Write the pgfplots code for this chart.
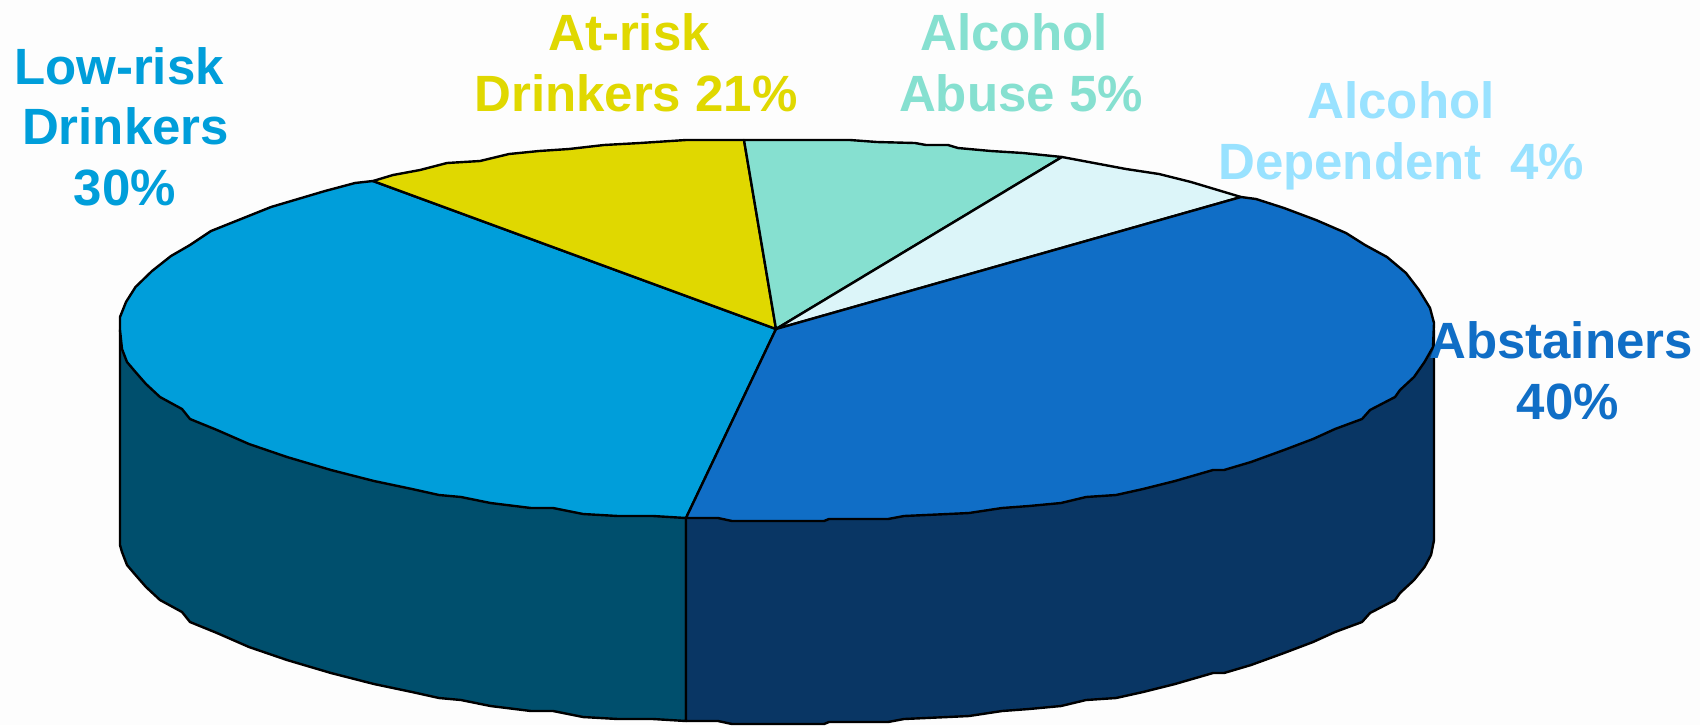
\documentclass[border=0pt]{standalone}
\usepackage{pgfplots}
\pgfplotsset{compat=1.18}
\usepackage{fontspec}
\setmainfont{Liberation Sans}

\definecolor{bgc}{HTML}{FDFDFD}
\definecolor{lowc}{HTML}{009EDA}
\definecolor{riskc}{HTML}{E0D800}
\definecolor{abusec}{HTML}{86E0D0}
\definecolor{depc}{HTML}{DCF5F9}
\definecolor{abstc}{HTML}{106EC6}
\definecolor{sideleft}{HTML}{004F6D}
\definecolor{sideright}{HTML}{093664}
\definecolor{deptext}{HTML}{99E2FF}

\tikzset{
    lab/.style={anchor=base, inner sep=0pt, outer sep=0pt, font=\fontsize{25.5pt}{30pt}\selectfont\bfseries},
    slice/.style={draw=black, line width=1.2pt, line join=round},
}

\begin{document}
\begin{tikzpicture}
\begin{axis}[
    scale only axis,
    width=850pt,
    height=362.5pt,
    xmin=0, xmax=1700,
    ymin=0, ymax=725,
    y dir=reverse,
    hide axis,
]

% background
\addplot[draw=none, fill=bgc] coordinates {(0,0) (1700,0) (1700,725) (0,725)} --cycle;

% side walls
\addplot[slice, fill=sideleft] coordinates {
    (686,518) (686,721) (653,719) (618,719) (583,717) (553,711) (531,711) (490.5,706)
    (461,700) (439,698) (412,692) (374,684) (331,673) (287,660) (249,647) (217,633)
    (190,622) (182,612) (160,600) (146,587) (135.5,575) (127,565) (122,552) (120,545)
    (120,330)
} --cycle;
\addplot[slice, fill=sideright] coordinates {
    (686,518) (686,721) (718,721) (732,724) (824,724) (829,722) (850,722) (888,722)
    (904,719) (948,717) (969,716) (1002,711) (1029,709) (1061,706) (1086,700) (1116,698)
    (1143,692) (1175,684) (1213,673) (1224,673) (1251,665) (1284,653) (1313,642) (1335,632)
    (1362,622) (1370,613) (1395,600) (1400,593) (1414,580) (1424.5,567) (1431,555) (1434,540)
    (1434,330)
} --cycle;

% top slices
\addplot[slice, fill=lowc] coordinates {
    (776,329) (686,518) (653,516) (618,516) (583,514) (553,508) (531,508) (490.5,503)
    (461,497) (439,495) (412,489) (374,481) (331,470) (287,457) (249,444) (217,430)
    (190,419) (182,409) (160,397) (146,384) (135.5,372) (127,362) (122,349) (120,330)
    (120,317) (126,302) (135.5,287) (152,271) (171,256) (190,245) (211,231) (238.5,220)
    (271,207) (298,199) (325,191) (355,183) (373,181)
} --cycle;
\addplot[slice, fill=riskc] coordinates {
    (776,329) (373,181) (393,175) (420,170) (447,163) (480,161) (509,154) (539,151)
    (569,149) (604,145) (640,143) (686,140) (744,140)
} --cycle;
\addplot[slice, fill=abusec] coordinates {
    (776,329) (744,140) (850,140) (877,142) (915,143) (926,145) (948,145) (958,148)
    (991,151) (1023,153) (1062,157)
} --cycle;
\addplot[slice, fill=depc] coordinates {
    (776,329) (1062,157) (1094,163) (1126,169) (1159,174) (1191,182) (1241,197)
} --cycle;
\addplot[slice, fill=abstc] coordinates {
    (776,329) (1241,197) (1256,199) (1284,208) (1316,220) (1346,233) (1365,245) (1387,257)
    (1406,273) (1419,290) (1430,308) (1434,323) (1433,347) (1424.5,362) (1414,377) (1400,390)
    (1395,397) (1370,410) (1362,419) (1335,429) (1313,439) (1284,450) (1251,462) (1224,470)
    (1213,470) (1175,481) (1143,489) (1116,495) (1086,497) (1061,503) (1029,506) (1002,508)
    (969,513) (948,514) (904,516) (888,519) (850,519) (829,519) (824,521) (732,521)
    (718,518) (686,518)
} --cycle;

% labels
\node[lab, text=lowc] at (axis cs:119,84) {Low-risk};
\node[lab, text=lowc] at (axis cs:125.5,144) {Drinkers};
\node[lab, text=lowc] at (axis cs:125,205) {30\%};
\node[lab, text=riskc] at (axis cs:629,50) {At-risk};
\node[lab, text=riskc] at (axis cs:636,111) {Drinkers 21\%};
\node[lab, text=abusec] at (axis cs:1014,50) {Alcohol};
\node[lab, text=abusec] at (axis cs:1021,111) {Abuse 5\%};
\node[lab, text=deptext] at (axis cs:1401,118) {Alcohol};
\node[lab, text=deptext] at (axis cs:1401,179) {Dependent\ \ 4\%};
\node[lab, text=abstc] at (axis cs:1561,358) {Abstainers};
\node[lab, text=abstc] at (axis cs:1568,419) {40\%};

\end{axis}
\end{tikzpicture}
\end{document}
